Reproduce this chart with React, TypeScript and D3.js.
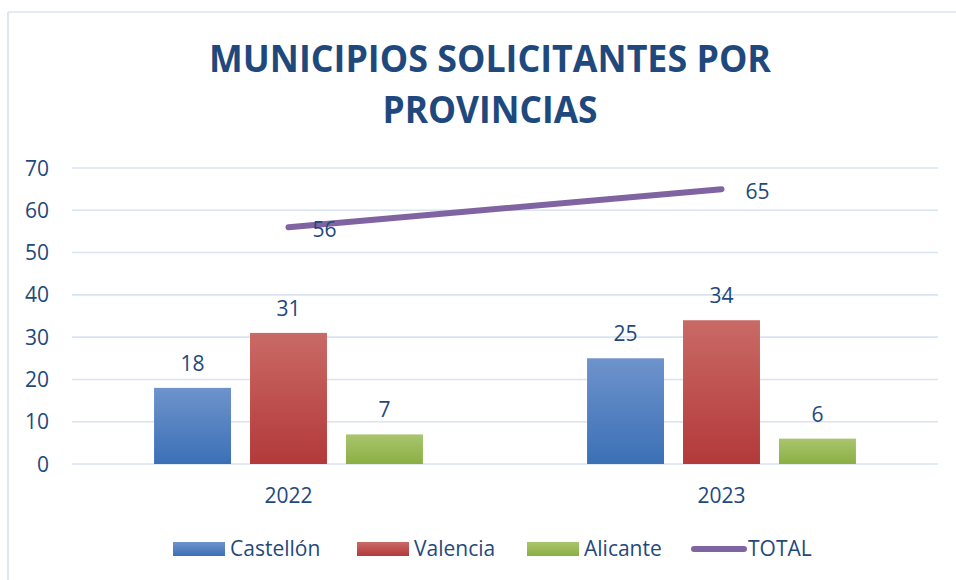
import React from "react";
import * as d3 from "d3";

const categories = ["2022", "2023"];
const seriesNames = ["Castellón", "Valencia", "Alicante"];
const castellon = [18, 25];
const valencia = [31, 34];
const alicante = [7, 6];
const totalName = "TOTAL";
const total = [56, 65];
const yTicks = [0, 10, 20, 30, 40, 50, 60, 70];
const titleLines = ["MUNICIPIOS SOLICITANTES POR", "PROVINCIAS"];

const W = 956;
const H = 580;
const TEXT = "#1F497D";
const FONT = "'Open Sans', 'Noto Sans', sans-serif";
const gradients = [
  { id: "gBlue", top: "#6E93CC", bottom: "#3B70B6" },
  { id: "gRed", top: "#C96A66", bottom: "#B3393A" },
  { id: "gGreen", top: "#A9C56F", bottom: "#8BAF42" },
];
const lineColor = "#8064A2";

export default function App() {
  const values = [castellon, valencia, alicante];
  const plotLeft = 72;
  const plotRight = 938;
  const y = d3.scaleLinear().domain([0, 70]).range([464, 168]);
  const x0 = d3.scaleBand<string>().domain(categories).range([plotLeft, plotRight]).padding(0);
  const groupW = x0.bandwidth() * 0.621;
  const x1 = d3
    .scaleBand<string>()
    .domain(seriesNames)
    .range([-groupW / 2, groupW / 2])
    .paddingInner(0.198);
  const cx = (c: string) => (x0(c) as number) + x0.bandwidth() / 2;
  const line = d3
    .line<number>()
    .x((_, i) => cx(categories[i]))
    .y((d) => y(d));

  const legendItems = [
    { sx: 173, tx: 230, label: seriesNames[0], g: 0 },
    { sx: 357, tx: 414, label: seriesNames[1], g: 1 },
    { sx: 527, tx: 584, label: seriesNames[2], g: 2 },
  ];

  return (
    <svg
      width={W}
      height={H}
      style={{ position: "absolute", left: 0, top: 0, background: "#fff" }}
      fontFamily={FONT}
    >
      <defs>
        {gradients.map((g) => (
          <linearGradient key={g.id} id={g.id} x1="0" y1="0" x2="0" y2="1">
            <stop offset="0" stopColor={g.top} />
            <stop offset="1" stopColor={g.bottom} />
          </linearGradient>
        ))}
      </defs>
      <rect x={0} y={0} width={W} height={H} fill="#fff" />
      {/* chart border */}
      <line x1={8} y1={12} x2={W} y2={12} stroke="#DDE5EF" strokeWidth={1.5} />
      <line x1={8} y1={12} x2={8} y2={H} stroke="#DDE5EF" strokeWidth={2} />

      {/* title */}
      {titleLines.map((t, i) => (
        <text
          key={t}
          x={490}
          y={72 + i * 51}
          textAnchor="middle"
          fontSize={38}
          fontWeight="bold"
          fill={TEXT}
          textLength={i === 0 ? 562 : 215}
          lengthAdjust="spacingAndGlyphs"
        >
          {t}
        </text>
      ))}

      {/* grid + y labels */}
      {yTicks.map((t) => (
        <g key={t}>
          <line x1={plotLeft} x2={plotRight} y1={y(t)} y2={y(t)} stroke="#D9E4F2" strokeWidth={1.6} />
          <text x={49} y={y(t) + 7.5} textAnchor="end" fontSize={21} fill={TEXT}>
            {t}
          </text>
        </g>
      ))}

      {/* bars */}
      {categories.map((c, ci) => (
        <g key={c}>
          {seriesNames.map((s, si) => {
            const v = values[si][ci];
            const bx = cx(c) + (x1(s) as number);
            return (
              <g key={s}>
                <rect
                  x={bx}
                  y={y(v)}
                  width={x1.bandwidth()}
                  height={y(0) - y(v)}
                  fill={`url(#${gradients[si].id})`}
                />
                <text
                  x={bx + x1.bandwidth() / 2}
                  y={y(v) - 17}
                  textAnchor="middle"
                  fontSize={21}
                  fill={TEXT}
                >
                  {v}
                </text>
              </g>
            );
          })}
          <text x={cx(c)} y={503} textAnchor="middle" fontSize={21} fill={TEXT}>
            {c}
          </text>
        </g>
      ))}

      {/* total line */}
      <path d={line(total) || ""} fill="none" stroke={lineColor} strokeWidth={6} strokeLinecap="round" />
      {total.map((v, i) => (
        <text key={i} x={cx(categories[i]) + 24} y={y(v) + 9.5} fontSize={21} fill={TEXT}>
          {v}
        </text>
      ))}

      {/* legend */}
      {legendItems.map((l) => (
        <g key={l.label}>
          <rect x={l.sx} y={542} width={52} height={14} fill={`url(#${gradients[l.g].id})`} />
          <text x={l.tx} y={556} fontSize={21} fill={TEXT}>
            {l.label}
          </text>
        </g>
      ))}
      <line x1={694} x2={744} y1={549} y2={549} stroke={lineColor} strokeWidth={6} strokeLinecap="round" />
      <text x={748} y={556} fontSize={21} fill={TEXT}>
        {totalName}
      </text>
    </svg>
  );
}
